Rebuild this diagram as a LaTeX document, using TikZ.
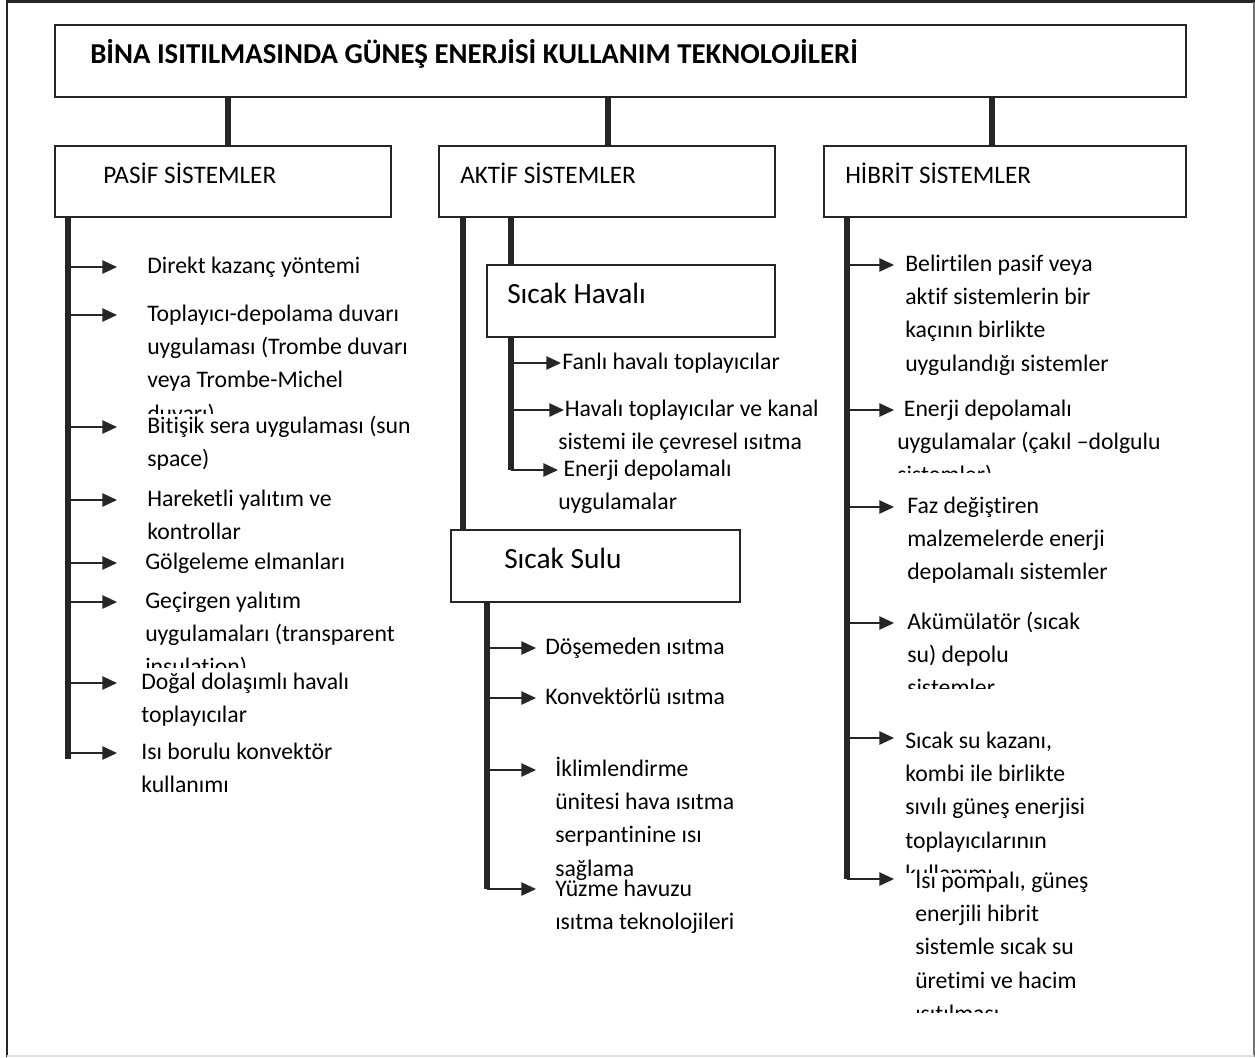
\documentclass[tikz,border=0pt]{standalone}
\usepackage{fontspec}
\setmainfont{Carlito}[Ligatures=NoCommon]
\usetikzlibrary{arrows.meta,fit}
\newcommand\mlines[1]{\begin{tabular}[t]{@{}l@{}}#1\end{tabular}}
\begin{document}
\begin{tikzpicture}[x=0.75pt,y=-0.75pt,
  box/.style={draw=black!85, line width=1.5pt, fill=white, inner sep=0pt},
  trunk/.style={line width=4pt, draw=black!85},
  arr/.style={line width=1.1pt, draw=black!85, -{Triangle[length=11pt,width=10pt]}},
  item/.style={anchor=base west, inner sep=0pt, font=\fontsize{17.8}{25}\selectfont},
  hdr/.style={anchor=base west, inner sep=0pt, font=\fontsize{18.9}{22}\selectfont},
  sub/.style={anchor=base west, inner sep=0pt, font=\fontsize{22}{26}\selectfont},
  ttl/.style={anchor=base west, inner sep=0pt, font=\fontsize{21.6}{24}\selectfont\bfseries}]
\useasboundingbox (0,0) rectangle (1255,1057);
\fill[white] (0,0) rectangle (1255,1057);
% outer frame
\draw[black!85, line width=2pt] (7,1057) -- (7,1.5) -- (1255,1.5);
\draw[black!55, line width=1.2pt] (1254,1.5) -- (1254,1057);
\draw[black!12, line width=1pt] (7,1056) -- (1254,1056);

% boxes
\node[box, fit={(55,25) (1186,97)}] (title) {};
\node[box, fit={(55,146) (391,217)}] (pasif) {};
\node[box, fit={(439,146) (775,217)}] (aktif) {};
\node[box, fit={(824,146) (1186,217)}] (hibrit) {};

\node[ttl] (ttltxt) at (90,63) {BİNA ISITILMASINDA GÜNEŞ ENERJİSİ KULLANIM TEKNOLOJİLERİ};
\node[hdr] (pasiftxt) at (103,183) {PASİF SİSTEMLER};
\node[hdr] (aktiftxt) at (460,183) {AKTİF SİSTEMLER};
\node[hdr] (hibrittxt) at (845,183) {HİBRİT SİSTEMLER};

% coordinates of vertical lines
\coordinate (cP) at (228,0);
\coordinate (cA) at (608,0);
\coordinate (cH) at (992,0);
\draw[trunk] (cP |- title.south) -- (cP |- pasif.north);
\draw[trunk] (cA |- title.south) -- (cA |- aktif.north);
\draw[trunk] (cH |- title.south) -- (cH |- hibrit.north);

% ---------------- PASIF ----------------
\coordinate (pT) at (68,0);
\coordinate (pEnd) at (68,759);
\draw[trunk] (pT |- pasif.south) -- (pEnd);
\foreach \y/\n in {267/p1,315/p2,427/p3,500/p4,563/p5,602/p6,683/p7,753/p8}{
  \coordinate (\n) at (117,\y);
  \draw[arr] (pT |- \n) -- (\n);
}
\node[item] (tp1) at (147,273) {Direkt kazanç yöntemi};
\begin{scope}
\clip (100,280) rectangle (430,413);
\node[item] (tp2) at (147,321) {\mlines{Toplayıcı-depolama duvarı\\uygulaması (Trombe duvarı\\veya Trombe-Michel\\duvarı)}};
\end{scope}
\node[item] (tp3) at (147,433) {\mlines{Bitişik sera uygulaması (sun\\space)}};
\begin{scope}
\clip (100,480) rectangle (430,545);
\node[item] (tp4) at (147,506) {\mlines{Hareketli yalıtım ve\\kontrollar}};
\end{scope}
\node[item] (tp5) at (145,569) {Gölgeleme elmanları};
\begin{scope}
\clip (100,580) rectangle (430,667);
\node[item] (tp6) at (145,608) {\mlines{Geçirgen yalıtım\\uygulamaları (transparent\\insulation)}};
\end{scope}
\node[item] (tp7) at (141,689) {\mlines{Doğal dolaşımlı havalı\\toplayıcılar}};
\node[item] (tp8) at (141,759) {\mlines{Isı borulu konvektör\\kullanımı}};

% ---------------- AKTIF ----------------
\node[box, fit={(487,265) (775,337)}] (havali) {};
\node[sub] (havalitxt) at (507,303) {Sıcak Havalı};
\node[box, fit={(451,530) (740,602)}] (sulu) {};
\node[sub] (sulutxt) at (504,568) {Sıcak Sulu};

\coordinate (aT1) at (463,0);
\coordinate (aT2) at (511,0);
\draw[trunk] (aT1 |- aktif.south) -- (aT1 |- sulu.north);
\draw[trunk] (aT2 |- aktif.south) -- (aT2 |- havali.north);

\coordinate (hEnd) at (511,470);
\draw[trunk] (aT2 |- havali.south) -- (hEnd);
\coordinate (h1) at (561,363);
\coordinate (h2) at (564,410);
\coordinate (h3) at (558,470);
\draw[arr] (aT2 |- h1) -- (h1);
\draw[arr] (aT2 |- h2) -- (h2);
\draw[arr] (hEnd) -- (h3);
\node[item] (th1) at (562,369) {Fanlı havalı toplayıcılar};
\node[item] (th2) at (558,416) {\mlines{\hspace*{5pt}Havalı toplayıcılar ve kanal\\sistemi ile çevresel ısıtma}};
\node[item] (th3) at (558,476) {\mlines{\hspace*{4pt}Enerji depolamalı\\uygulamalar}};

\coordinate (sT) at (487,0);
\coordinate (sEnd) at (487,889);
\draw[trunk] (sT |- sulu.south) -- (sEnd);
\coordinate (s1) at (536,648);
\coordinate (s2) at (536,698);
\coordinate (s3) at (536,770);
\coordinate (s4) at (536,889);
\draw[arr] (sT |- s1) -- (s1);
\draw[arr] (sT |- s2) -- (s2);
\draw[arr] (sT |- s3) -- (s3);
\draw[arr] (sEnd) -- (s4);
\node[item] (ts1) at (545,654) {Döşemeden ısıtma};
\node[item] (ts2) at (545,704) {Konvektörlü ısıtma};
\begin{scope}
\clip (540,750) rectangle (800,880);
\node[item] (ts3) at (555,776) {\mlines{İklimlendirme\\ünitesi hava ısıtma\\serpantinine ısı\\sağlama}};
\end{scope}
\node[item] (ts4) at (555,896) {\mlines{Yüzme havuzu\\ısıtma teknolojileri}};

% ---------------- HIBRIT ----------------
\coordinate (bT) at (847,0);
\coordinate (bEnd) at (847,879);
\draw[trunk] (bT |- hibrit.south) -- (bEnd);
\foreach \y/\n in {265/b1,410/b2,507/b3,623/b4,738/b5}{
  \coordinate (\n) at (894,\y);
  \draw[arr] (bT |- \n) -- (\n);
}
\coordinate (b6) at (894,879);
\draw[arr] (bEnd) -- (b6);
\begin{scope}
\clip (890,240) rectangle (1200,377);
\node[item] (tb1) at (905,271) {\mlines{Belirtilen pasif veya\\aktif sistemlerin bir\\kaçının birlikte\\uygulandığı sistemler}};
\end{scope}
\begin{scope}
\clip (890,390) rectangle (1200,472);
\node[item] (tb2) at (897,416) {\mlines{\hspace*{5pt}Enerji depolamalı\\uygulamalar (çakıl –dolgulu\\sistemler)}};
\end{scope}
\node[item] (tb3) at (907,513) {\mlines{Faz değiştiren\\malzemelerde enerji\\depolamalı sistemler}};
\begin{scope}
\clip (890,600) rectangle (1200,688);
\node[item] (tb4) at (907,629) {\mlines{Akümülatör (sıcak\\su) depolu\\sistemler}};
\end{scope}
\begin{scope}
\clip (890,715) rectangle (1200,872);
\node[item] (tb5) at (905,748) {\mlines{Sıcak su kazanı,\\kombi ile birlikte\\sıvılı güneş enerjisi\\toplayıcılarının\\kullanımı}};
\end{scope}
\begin{scope}
\clip (890,860) rectangle (1200,1012);
\node[item] (tb6) at (915,888) {\mlines{Isı pompalı, güneş\\enerjili hibrit\\sistemle sıcak su\\üretimi ve hacim\\ısıtılması}};
\end{scope}
\end{tikzpicture}
\end{document}
